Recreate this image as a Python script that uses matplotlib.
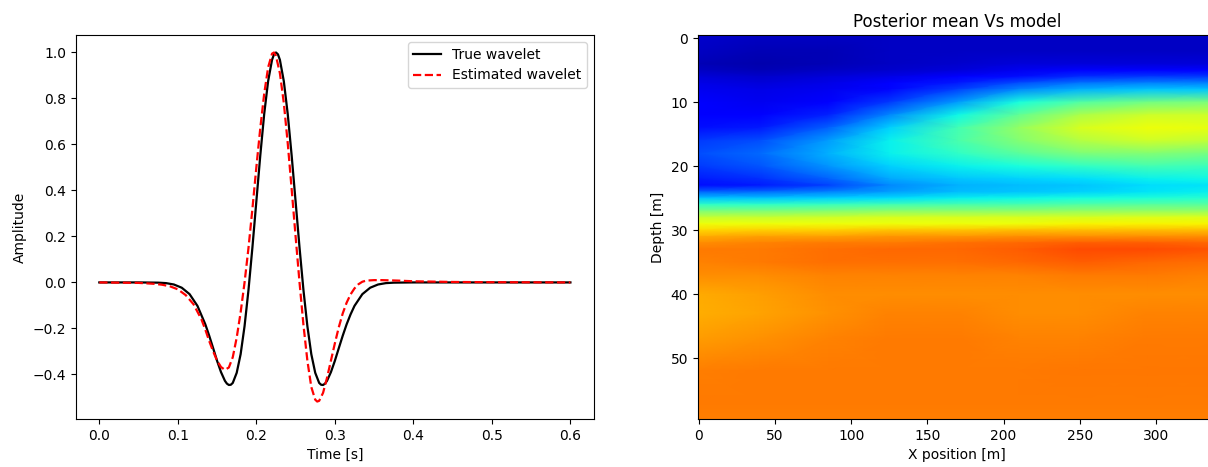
import numpy as np
import matplotlib
matplotlib.use("Agg")
import matplotlib.pyplot as plt

# --- wavelet samples ---
t_true = [0.000, 0.050, 0.075, 0.085, 0.095, 0.105, 0.115, 0.125, 0.135, 0.140,
          0.145, 0.150, 0.155, 0.160, 0.1625, 0.165, 0.1675, 0.170, 0.175, 0.180, 0.185, 0.190,
          0.195, 0.200, 0.205, 0.210, 0.215, 0.220, 0.2225, 0.225, 0.2275, 0.230, 0.235, 0.240,
          0.245, 0.250, 0.255, 0.260, 0.265, 0.270, 0.275, 0.280, 0.2825, 0.285, 0.2875, 0.290,
          0.295, 0.300, 0.305, 0.310, 0.315, 0.320, 0.325, 0.335, 0.345, 0.355,
          0.365, 0.375, 0.400, 0.450, 0.600]
amp_true = [0.000, 0.000, -0.001, -0.003, -0.009, -0.023, -0.051, -0.102, -0.182, -0.232,
            -0.286, -0.341, -0.390, -0.428, -0.440, -0.446, -0.445, -0.437, -0.393, -0.312, -0.190, -0.033,
            0.152, 0.352, 0.551, 0.732, 0.875, 0.968, 0.992, 1.000, 0.992, 0.968, 0.875, 0.732,
            0.551, 0.352, 0.152, -0.033, -0.190, -0.312, -0.393, -0.437, -0.445, -0.446, -0.440, -0.428,
            -0.390, -0.341, -0.286, -0.232, -0.182, -0.139, -0.102, -0.051, -0.023, -0.009,
            -0.003, -0.001, 0.000, 0.000, 0.000]

t_est = [0.000, 0.050, 0.070, 0.080, 0.090, 0.100, 0.110, 0.120, 0.130, 0.135,
         0.140, 0.145, 0.150, 0.155, 0.160, 0.165, 0.170, 0.175, 0.180, 0.185,
         0.190, 0.195, 0.200, 0.205, 0.210, 0.215, 0.220, 0.2225, 0.225, 0.230, 0.235,
         0.240, 0.245, 0.250, 0.255, 0.260, 0.265, 0.270, 0.275, 0.2775, 0.280, 0.285,
         0.290, 0.295, 0.300, 0.305, 0.310, 0.315, 0.320, 0.325, 0.330, 0.335,
         0.340, 0.350, 0.360, 0.380, 0.400, 0.450, 0.500, 0.600]
amp_est = [0.000, -0.002, -0.006, -0.010, -0.017, -0.030, -0.055, -0.095, -0.160, -0.205,
           -0.255, -0.300, -0.340, -0.368, -0.380, -0.370, -0.325, -0.240, -0.130, 0.000,
           0.150, 0.320, 0.500, 0.670, 0.820, 0.935, 0.995, 1.000, 0.985, 0.910, 0.780,
           0.605, 0.405, 0.200, 0.000, -0.185, -0.340, -0.455, -0.510, -0.518, -0.515, -0.480,
           -0.415, -0.340, -0.265, -0.195, -0.135, -0.088, -0.052, -0.026, -0.008, 0.003,
           0.008, 0.010, 0.010, 0.008, 0.005, 0.002, 0.001, 0.000]

# --- posterior mean Vs (normalised to the colour scale) ---
x_nodes = [-0.5, 40, 85, 125, 170, 210, 250, 295, 340]
depth_nodes = [-0.5, 2, 4, 5, 6, 7, 8, 10, 12, 14, 16, 18, 20, 22, 23, 24, 25, 26,
               27, 28, 29, 30, 31, 32, 33, 35, 37, 40, 43, 47, 52, 57, 59.5]
vs_norm = [
    [0.07, 0.06, 0.06, 0.06, 0.06, 0.06, 0.06, 0.06, 0.06],
    [0.06, 0.05, 0.05, 0.06, 0.06, 0.06, 0.06, 0.06, 0.06],
    [0.05, 0.04, 0.05, 0.06, 0.07, 0.08, 0.08, 0.08, 0.08],
    [0.06, 0.05, 0.06, 0.07, 0.08, 0.10, 0.11, 0.11, 0.11],
    [0.08, 0.07, 0.08, 0.09, 0.11, 0.14, 0.17, 0.18, 0.18],
    [0.09, 0.08, 0.09, 0.11, 0.15, 0.20, 0.24, 0.25, 0.25],
    [0.10, 0.09, 0.10, 0.13, 0.19, 0.26, 0.30, 0.32, 0.32],
    [0.11, 0.10, 0.12, 0.18, 0.28, 0.38, 0.45, 0.49, 0.50],
    [0.12, 0.12, 0.16, 0.26, 0.37, 0.47, 0.56, 0.60, 0.60],
    [0.14, 0.15, 0.22, 0.33, 0.43, 0.53, 0.61, 0.64, 0.63],
    [0.18, 0.20, 0.28, 0.36, 0.44, 0.51, 0.57, 0.60, 0.58],
    [0.20, 0.23, 0.30, 0.36, 0.41, 0.46, 0.50, 0.51, 0.49],
    [0.18, 0.21, 0.27, 0.33, 0.36, 0.38, 0.41, 0.43, 0.42],
    [0.15, 0.17, 0.22, 0.29, 0.32, 0.33, 0.34, 0.36, 0.37],
    [0.14, 0.15, 0.19, 0.26, 0.30, 0.31, 0.32, 0.34, 0.35],
    [0.22, 0.23, 0.25, 0.28, 0.31, 0.32, 0.33, 0.35, 0.36],
    [0.32, 0.32, 0.33, 0.34, 0.36, 0.37, 0.38, 0.39, 0.40],
    [0.41, 0.41, 0.42, 0.43, 0.44, 0.44, 0.45, 0.46, 0.46],
    [0.50, 0.50, 0.51, 0.52, 0.52, 0.52, 0.53, 0.53, 0.53],
    [0.59, 0.59, 0.60, 0.61, 0.61, 0.61, 0.61, 0.62, 0.62],
    [0.64, 0.64, 0.64, 0.64, 0.64, 0.64, 0.65, 0.65, 0.65],
    [0.68, 0.69, 0.69, 0.70, 0.70, 0.71, 0.71, 0.71, 0.71],
    [0.73, 0.74, 0.74, 0.75, 0.75, 0.76, 0.76, 0.76, 0.76],
    [0.76, 0.77, 0.78, 0.78, 0.79, 0.80, 0.81, 0.81, 0.80],
    [0.78, 0.78, 0.79, 0.80, 0.80, 0.81, 0.83, 0.83, 0.82],
    [0.77, 0.78, 0.79, 0.79, 0.79, 0.80, 0.81, 0.80, 0.79],
    [0.76, 0.76, 0.77, 0.77, 0.77, 0.77, 0.78, 0.78, 0.77],
    [0.73, 0.74, 0.76, 0.76, 0.76, 0.76, 0.76, 0.76, 0.76],
    [0.725, 0.735, 0.755, 0.77, 0.77, 0.76, 0.76, 0.77, 0.77],
    [0.745, 0.755, 0.77, 0.78, 0.78, 0.77, 0.77, 0.78, 0.78],
    [0.775, 0.78, 0.78, 0.78, 0.78, 0.78, 0.785, 0.785, 0.785],
    [0.78, 0.78, 0.78, 0.78, 0.78, 0.78, 0.78, 0.78, 0.78],
    [0.775, 0.775, 0.775, 0.775, 0.775, 0.775, 0.775, 0.775, 0.775],
]

fig = plt.figure(figsize=(12.08, 4.67), dpi=100)
ax1 = fig.add_axes([0.0627, 0.1028, 0.4290, 0.8222])
ax2 = fig.add_axes([0.5778, 0.1028, 0.4290, 0.8222])

# wavelet comparison
ax1.plot(t_true, amp_true, color="black", lw=1.6, label="True wavelet")
ax1.plot(t_est, amp_est, color="red", lw=1.6, ls="--", label="Estimated wavelet")
ax1.set_xlabel("Time [s]")
ax1.set_ylabel("Amplitude")
ax1.legend(loc="upper right")

# posterior mean model
ax2.pcolormesh(x_nodes, depth_nodes, np.array(vs_norm), cmap="jet",
               vmin=0, vmax=1, shading="gouraud")
ax2.set_xlim(-0.5, 339.5)
ax2.set_ylim(59.5, -0.5)
ax2.set_xticks([0, 50, 100, 150, 200, 250, 300])
ax2.set_yticks([0, 10, 20, 30, 40, 50])
ax2.set_xlabel("X position [m]")
ax2.set_ylabel("Depth [m]")
ax2.set_title("Posterior mean Vs model")

fig.savefig("out.png", dpi=100)
